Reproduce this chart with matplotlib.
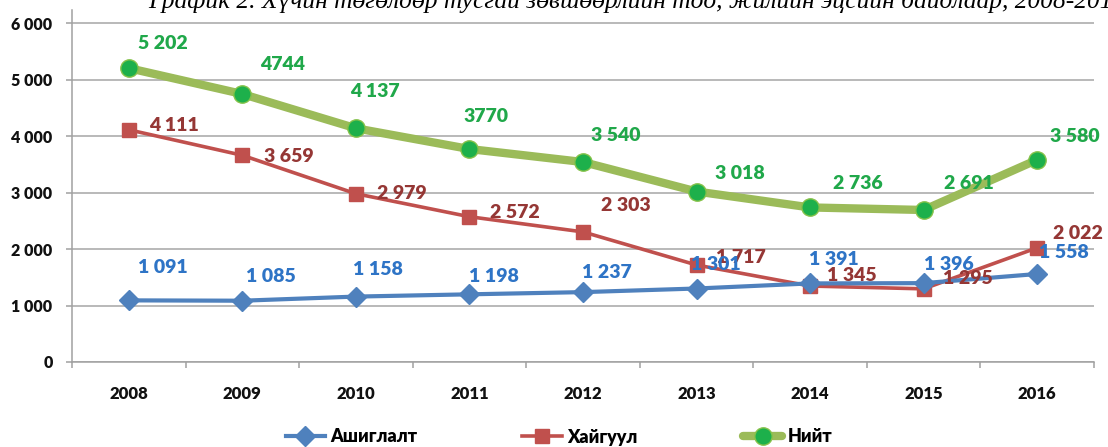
import matplotlib
matplotlib.use("Agg")
import matplotlib.pyplot as plt
from matplotlib.ticker import FixedLocator, FuncFormatter

years = ["2008", "2009", "2010", "2011", "2012", "2013", "2014", "2015", "2016"]
ashiglalt = [1091, 1085, 1158, 1198, 1237, 1301, 1391, 1396, 1558]
haiguul = [4111, 3659, 2979, 2572, 2303, 1717, 1345, 1295, 2022]
niit = [5202, 4744, 4137, 3770, 3540, 3018, 2736, 2691, 3580]

lbl_ashiglalt = ["1 091", "1 085", "1 158", "1 198", "1 237", "1 301", "1 391", "1 396", "1 558"]
lbl_haiguul = ["4 111", "3 659", "2 979", "2 572", "2 303", "1 717", "1 345", "1 295", "2 022"]
lbl_niit = ["5 202", "4744", "4 137", "3770", "3 540", "3 018", "2 736", "2 691", "3 580"]

yticks = [0, 1000, 2000, 3000, 4000, 5000, 6000]
series_names = ["Ашиглалт", "Хайгуул", "Нийт"]
title = "График 2. Хүчин төгөлдөр тусгай зөвшөөрлийн тоо, жилийн эцсийн байдлаар, 2008-2016"

# label offsets in pixels (dx right, dy down)
off_a = [(34, -33), (29, -24), (22, -27), (24, -18), (24, -20), (19, -24), (24, -24), (25, -19), (27, -21)]
off_h = [(45, -4), (46, 1), (46, 0), (45, -4), (43, -26), (44, -8), (42, -11), (44, -10), (41, -14)]
off_n = [(34, -25), (40, -30), (19, -37), (17, -33), (33, -27), (43, -18), (48, -24), (45, -26), (38, -23)]

W, H = 1108, 447
fig = plt.figure(figsize=(W / 100, H / 100), dpi=100)
ax = fig.add_axes([72 / W, 1 - 362 / H, (1094 - 72) / W, (362 - 9.5) / H])

x = list(range(len(years)))
fam = ["Lato", "DejaVu Sans"]
lab_font = dict(family=fam, fontweight="heavy", fontsize=14)

c_blue, c_red, c_green = "#4F81BD", "#C0504D", "#9BBB59"
t_blue, t_red, t_green = "#2E74C6", "#953735", "#20A84A"

ax.plot(x, niit, color=c_green, lw=6, marker="o", ms=12.5, mfc="#1DB04B",
        mec="#86C24A", mew=1, label=series_names[2], zorder=3, solid_capstyle="round")
ax.plot(x, haiguul, color=c_red, lw=2.6, marker="s", ms=10.5, mfc=c_red, mec=c_red,
        label=series_names[1], zorder=4)
ax.plot(x, ashiglalt, color=c_blue, lw=3, marker="D", ms=10, mfc=c_blue, mec=c_blue,
        label=series_names[0], zorder=5)

for vals, labs, offs, col in [(niit, lbl_niit, off_n, t_green),
                              (haiguul, lbl_haiguul, off_h, t_red),
                              (ashiglalt, lbl_ashiglalt, off_a, t_blue)]:
    for i, (v, s, (dx, dy)) in enumerate(zip(vals, labs, offs)):
        ax.annotate(s, (x[i], v), xytext=(dx, -dy), textcoords="offset pixels",
                    ha="center", va="center", color=col, zorder=6, **lab_font)

ax.set_xlim(-0.5, len(years) - 0.5)
ax.set_ylim(0, 6240)
ax.yaxis.set_major_locator(FixedLocator(yticks))
ax.yaxis.set_major_formatter(FuncFormatter(lambda v, p: f"{int(v):,}".replace(",", " ")))
ax.set_xticks(x)
ax.set_xticklabels(years)
ax.set_xticks([i - 0.5 for i in range(len(years) + 1)], minor=True)
ax.grid(axis="y", color="#A6A6A6", lw=1.1, zorder=0)
ax.set_axisbelow(True)
for s in ["top", "right"]:
    ax.spines[s].set_visible(False)
for s in ["left", "bottom"]:
    ax.spines[s].set_color("#A0A0A0")
    ax.spines[s].set_linewidth(1.1)
ax.tick_params(axis="y", length=4, width=1.1, color="#A0A0A0", pad=10, labelsize=11.5)
ax.tick_params(axis="x", which="major", length=0, pad=17, labelsize=12)
ax.tick_params(axis="x", which="minor", length=4, width=1.1, color="#A0A0A0")
for t in ax.get_xticklabels() + ax.get_yticklabels():
    t.set_family(fam)
    t.set_fontweight("heavy")
    t.set_color("#111111")

fig.text(148 / W, 1 - 8 / H, title, ha="left", va="baseline", fontsize=18.4,
         style="italic", family=["Liberation Serif", "DejaVu Serif"])

handles, labels = ax.get_legend_handles_labels()
order = [2, 1, 0]
leg = fig.legend([handles[i] for i in order], [labels[i] for i in order],
                 loc="center", bbox_to_anchor=(559 / W, 1 - 437 / H), ncol=3,
                 frameon=False, handlelength=2.2, handletextpad=0.3, columnspacing=5.8,
                 prop=dict(family=fam, weight="heavy", size=13))
fig.savefig("out.png", dpi=100)
